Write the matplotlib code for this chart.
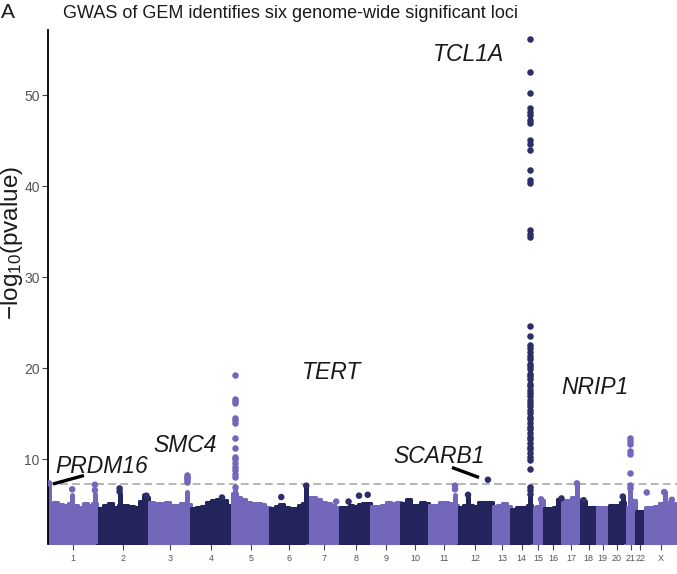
import numpy as np
import matplotlib
matplotlib.use("Agg")
import matplotlib.pyplot as plt

plt.rcParams['font.family'] = ['Liberation Sans', 'DejaVu Sans']
plt.rcParams['mathtext.default'] = 'regular'

# ---------------- data ----------------
chrom_labels = ['1', '2', '3', '4', '5', '6', '7', '8', '9', '10', '11', '12',
                '13', '14', '15', '16', '17', '18', '19', '20', '21', '22', 'X']
# plotted span of each chromosome (Mb-like genome units)
chrom_span = [238, 249, 201, 198, 185, 177, 160, 149, 145, 136, 137, 169,
              88, 101, 56, 88, 88, 80, 56, 80, 52, 43, 155]

# upper envelope of the dense body of SNPs (-log10 p), equal sub-segments per chromosome
env_tops = [
    [5.0, 5.3, 5.1, 5.0, 5.15, 5.0, 4.8, 5.2, 5.0, 5.15],
    [4.7, 5.0, 5.2, 4.8, 5.0, 5.0, 4.9, 4.8, 5.4, 5.8],
    [5.3, 5.2, 5.15, 5.35, 5.0, 5.0, 5.15, 5.1],
    [4.7, 4.75, 4.9, 5.3, 5.5, 5.6, 5.5, 5.0],
    [6.3, 5.9, 5.6, 5.35, 5.2, 5.2, 5.1, 4.8],
    [4.6, 4.9, 5.1, 4.8, 4.7, 4.6, 5.0, 5.2],
    [5.9, 5.8, 5.6, 5.35, 5.15, 5.0, 4.8],
    [4.8, 4.8, 5.0, 4.9, 5.1, 5.2, 5.2],
    [4.85, 4.9, 4.95, 5.3, 5.25, 5.3],
    [5.15, 5.6, 5.0, 5.0, 5.35, 5.15],
    [5.0, 5.0, 5.35, 5.3, 5.15, 5.0],
    [4.8, 5.0, 5.0, 4.9, 5.3, 5.35, 5.35],
    [4.9, 5.0, 5.2, 4.9],
    [4.5, 4.8, 4.8, 5.0],
    [4.8, 4.9, 5.5],
    [4.6, 4.6, 4.8, 5.6],
    [5.5, 5.5, 5.8, 5.6],
    [5.4, 4.8, 4.8],
    [4.8, 4.8],
    [5.0, 5.0, 5.3],
    [4.8, 5.6, 5.5],
    [4.3, 4.3],
    [4.8, 4.8, 4.9, 5.15, 5.2, 5.35, 5.15],
]

# narrow columns of SNPs rising above the body
spike_chrom = ['1', '1', '1', '2', '2', '3', '5', '6', '11', '12', '14', '17', '20', '21', 'X']
spike_frac = [0.02, 0.49, 0.95, 0.43, 0.90, 0.92, 0.086, 0.98, 0.90, 0.29, 0.90, 0.82, 0.86, 0.44, 0.63]
spike_top = [7.2, 6.1, 6.2, 6.2, 6.1, 6.4, 6.6, 6.9, 6.1, 5.9, 7.0, 7.2, 5.9, 7.0, 6.4]

# lead loci (-log10 p of the top SNPs)
tcl1a_logp = [56.2, 52.5, 50.3, 48.6, 48.2, 47.8, 47.3, 46.9, 45.1, 44.6, 44.0,
              41.8, 40.7, 40.4, 35.2, 34.8, 34.4, 24.6, 23.5, 22.6, 22.2, 21.8,
              21.3, 21.0, 20.5, 20.2, 19.9, 19.4, 19.1, 18.8, 18.3, 18.0, 17.6,
              17.3, 16.9, 16.5, 16.2, 15.8, 15.4, 15.1, 14.7, 14.4, 14.0, 13.6,
              13.3, 12.9, 12.5, 12.2, 11.8, 11.4, 11.1, 10.7, 10.3, 9.9, 8.9,
              7.0, 6.6, 6.2]
tert_logp = [19.3, 16.6, 16.4, 16.2, 14.5, 14.3, 14.0, 12.3, 11.2, 10.3, 10.0,
             9.6, 9.2, 8.8, 8.4, 8.1, 7.0]
nrip1_logp = [12.3, 12.0, 11.7, 10.9, 10.6, 8.5, 7.2, 6.8]
smc4_logp = [8.3, 8.1, 7.9, 7.7, 7.5]
lead_chrom = ['14', '5', '21', '3']
lead_frac = [0.90, 0.086, 0.44, 0.92]

# other isolated SNPs
other_chrom = ['1', '1', '1', '1', '2', '2', '2', '4', '6', '6', '7', '8', '8', '8',
               '11', '11', '12', '12', '15', '16', '17', '18', '20', 'X', 'X', 'X']
other_frac = [0.02, 0.49, 0.95, 0.95, 0.43, 0.43, 0.95, 0.76, 0.30, 0.98, 0.88, 0.27, 0.61, 0.89,
              0.90, 0.90, 0.29, 0.857, 0.77, 0.97, 0.82, 0.20, 0.86, 0.06, 0.60, 0.84]
other_logp = [7.35, 6.7, 7.2, 6.6, 6.8, 6.45, 6.0, 5.8, 5.85, 7.1, 5.35, 5.35, 6.0, 6.1,
              7.1, 6.7, 6.1, 7.75, 5.6, 5.7, 7.35, 5.5, 5.9, 6.35, 6.4, 5.55]

gwas_threshold = 7.3
title = 'GWAS of GEM identifies six genome-wide significant loci'
gene_labels = ['TCL1A', 'TERT', 'NRIP1', 'SMC4', 'SCARB1', 'PRDM16']

# ---------------- styling ----------------
light = '#7267ba'
dark = '#22245b'
dot_dark = '#2c2e68'

fig = plt.figure(figsize=(6.77, 5.74), dpi=100)
W, H = 677, 574
ax = fig.add_axes([48 / W, 1 - 544 / H, 629 / W, 514 / H])

starts = np.concatenate([[0], np.cumsum(chrom_span)[:-1]])
total = float(np.sum(chrom_span))
idx = {c: i for i, c in enumerate(chrom_labels)}


def col(i, pts=False):
    if i % 2 == 0:
        return light
    return dot_dark if pts else dark


def xpos(c, f):
    i = idx[c]
    return starts[i] + f * chrom_span[i]


ax.axhline(gwas_threshold, color='#b5b5b5', lw=1.4, dashes=(4, 2.2), zorder=1)

for i, env in enumerate(env_tops):
    n = len(env)
    edges = starts[i] + chrom_span[i] * np.arange(n + 1) / n
    tops = np.r_[env, env[-1]]
    pc = ax.fill_between(edges, 0, tops, step='post', facecolor=col(i),
                         edgecolor=col(i), lw=2.2, zorder=2)
    pc.set_joinstyle('round')

for c, f, t in zip(spike_chrom, spike_frac, spike_top):
    i = idx[c]
    ax.vlines(xpos(c, f), 0, t, color=col(i), lw=3.6, capstyle='round', zorder=2)

for c, f, vals in zip(lead_chrom, lead_frac, [tcl1a_logp, tert_logp, nrip1_logp, smc4_logp]):
    i = idx[c]
    ax.scatter(np.full(len(vals), xpos(c, f)), vals, s=22, color=col(i, True),
               linewidths=0, zorder=3)

ox = [xpos(c, f) for c, f in zip(other_chrom, other_frac)]
oc = [col(idx[c], True) for c in other_chrom]
ax.scatter(ox, other_logp, s=22, c=oc, linewidths=0, zorder=3)

ax.set_xlim(0, total)
ax.set_ylim(0.69, 57.17)
ax.set_xticks(starts + np.array(chrom_span) / 2)
ax.set_xticklabels(chrom_labels)
ax.set_yticks([10, 20, 30, 40, 50])
for s in ['top', 'right', 'bottom']:
    ax.spines[s].set_visible(False)
ax.spines['left'].set_linewidth(1.3)
ax.spines['left'].set_color('black')
ax.tick_params(axis='x', length=4, width=0.8, color='#444444', labelsize=6.5,
               labelcolor='#555555', pad=3)
ax.tick_params(axis='y', length=4, width=0.8, color='#444444', labelsize=10,
               labelcolor='#555555', pad=2)


# px -> data helpers for annotation placement
def dx(px):
    return (px - 48) / 629 * total


def dy(py):
    return 10 + (459.3 - py) / 9.1


gene_font = dict(family=['Liberation Sans Narrow', 'Liberation Sans', 'DejaVu Sans'],
                 style='italic', fontsize=16.5, color='#1a1a1a', zorder=5)
label_pos = [(433, 61), (302, 379), (561, 394), (153, 452), (393, 463), (55, 473)]
for g, (px, py) in zip(gene_labels, label_pos):
    ax.text(dx(px), dy(py), g, ha='left', va='baseline', **gene_font)

ax.plot([dx(53), dx(84)], [dy(484), dy(475.5)], color='black', lw=2.4,
        solid_capstyle='butt', zorder=5)
ax.plot([dx(452), dx(479)], [dy(467.5), dy(477.5)], color='black', lw=2.4,
        solid_capstyle='butt', zorder=5)

fig.text(1 / W, 1 - 12 / H, 'A', fontsize=15, ha='left', va='center', color='#1a1a1a')
fig.text(63 / W, 1 - 13 / H, title, fontsize=13, ha='left', va='center', color='#1a1a1a')
fig.text(12 / W, 1 - 243 / H, '\u2212log$_{10}$(pvalue)', rotation=90, fontsize=17.5,
         ha='center', va='center', color='#1a1a1a')

fig.savefig('out.png', dpi=100)
